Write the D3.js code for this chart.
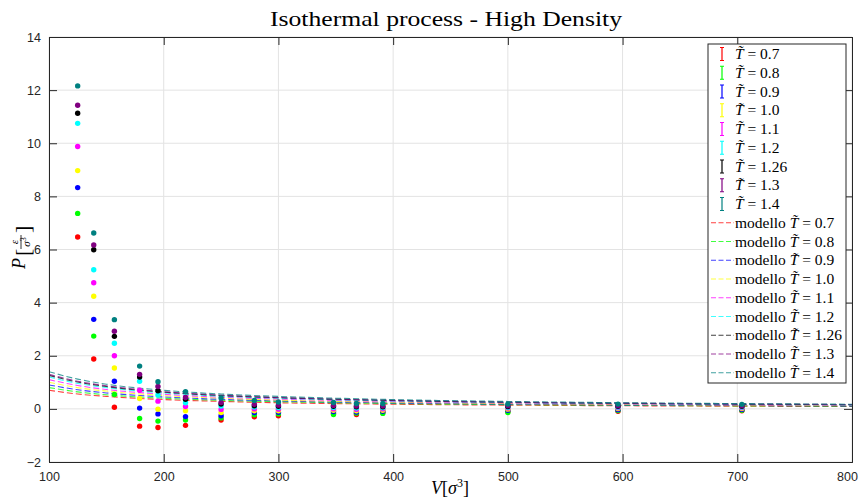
<!DOCTYPE html>
<html><head><meta charset="utf-8">
<script src="https://cdn.jsdelivr.net/npm/d3@7"></script>
<style>body{margin:0;background:#fff}svg{display:block}</style>
</head><body><svg id="c" width="861" height="499"></svg>
<script>
// ---------------- data ----------------
const temps = ["0.7","0.8","0.9","1.0","1.1","1.2","1.26","1.3","1.4"];
const colors = ["#ff0000","#00ff00","#0000ff","#ffff00","#ff00ff","#00ffff","#000000","#800080","#008080"];
const volumes = [125,139,157,179,195,219,250,279,300,348,368,391,500,596,704];
const p07  = [6.47,1.88,0.06,-0.65,-0.70,-0.62,-0.42,-0.30,-0.26,-0.16,-0.21,-0.13,-0.10,-0.09,-0.07];
const p08  = [7.36,2.74,0.54,-0.36,-0.46,-0.42,-0.34,-0.22,-0.19,-0.21,-0.16,-0.17,-0.14,-0.06,-0.05];
const p09  = [8.33,3.37,1.04,0.03,-0.19,-0.29,-0.26,-0.14,-0.13,-0.10,-0.12,-0.09,-0.05,-0.03,-0.02];
const p10  = [8.97,4.24,1.54,0.39,-0.01,-0.07,-0.14,-0.07,-0.07,-0.05,-0.07,-0.05,-0.01,0.01,0.01];
const p11  = [9.88,4.75,2.00,0.70,0.29,0.09,-0.02,0.00,-0.01,0.00,-0.02,0.00,0.03,0.04,0.04];
const p12  = [10.75,5.24,2.47,1.04,0.52,0.23,0.11,0.07,0.05,0.05,0.03,0.04,0.06,0.07,0.07];
const p126 = [11.13,5.99,2.73,1.20,0.68,0.36,0.18,0.12,0.10,0.10,0.08,0.08,0.09,0.10,0.10];
const p13  = [11.43,6.17,2.92,1.30,0.84,0.43,0.24,0.17,0.14,0.13,0.11,0.11,0.12,0.12,0.12];
const p14  = [12.16,6.62,3.36,1.61,1.02,0.65,0.41,0.32,0.26,0.24,0.20,0.20,0.18,0.18,0.17];
const measured = [p07,p08,p09,p10,p11,p12,p126,p13,p14];

const modelV = [100,125,150,200,250,300,400,500,600,800];
const m07  = [0.70,0.56,0.47,0.35,0.28,0.23,0.175,0.14,0.117,0.088];
const m08  = [0.80,0.64,0.53,0.40,0.32,0.27,0.20,0.16,0.133,0.10];
const m09  = [0.90,0.72,0.60,0.45,0.36,0.30,0.225,0.18,0.15,0.113];
const m10  = [1.00,0.80,0.67,0.50,0.40,0.33,0.25,0.20,0.167,0.125];
const m11  = [1.10,0.88,0.73,0.55,0.44,0.37,0.275,0.22,0.183,0.138];
const m12  = [1.20,0.96,0.80,0.60,0.48,0.40,0.30,0.24,0.20,0.15];
const m126 = [1.26,1.01,0.84,0.63,0.50,0.42,0.315,0.25,0.21,0.158];
const m13  = [1.30,1.04,0.87,0.65,0.52,0.43,0.325,0.26,0.217,0.163];
const m14  = [1.40,1.12,0.93,0.70,0.56,0.47,0.35,0.28,0.233,0.175];
const model = [m07,m08,m09,m10,m11,m12,m126,m13,m14];

const xTicks = [100,200,300,400,500,600,700,800];
const yTicks = [-2,0,2,4,6,8,10,12,14];

// ---------------- layout ----------------
const svg = d3.select("#c");
const L = 49, R = 852, T = 37, B = 462;
const x = d3.scaleLinear().domain([100,800]).range([L,R]);
const y = d3.scaleLinear().domain([-2,14]).range([B,T]);
const axisCol = "#262626";
const tickFont = "'Liberation Sans', Arial, sans-serif";
const serif = "'Liberation Serif', 'Times New Roman', serif";

// grid
const grid = svg.append("g");
grid.selectAll(".gx").data(xTicks).join("line")
  .attr("x1", d=>x(d)).attr("x2", d=>x(d)).attr("y1", T).attr("y2", B)
  .attr("stroke", "#e3e3e3").attr("stroke-width", 1);
grid.selectAll(".gy").data(yTicks).join("line")
  .attr("y1", d=>y(d)).attr("y2", d=>y(d)).attr("x1", L).attr("x2", R)
  .attr("stroke", "#e3e3e3").attr("stroke-width", 1);

// clip
svg.append("clipPath").attr("id","clip").append("rect")
  .attr("x", L).attr("y", T).attr("width", R-L).attr("height", B-T);

// model lines
const line = d3.line().x(d=>x(d[0])).y(d=>y(d[1])).curve(d3.curveMonotoneX);
const lg = svg.append("g").attr("clip-path","url(#clip)");
model.forEach((m,i)=>{
  lg.append("path").datum(modelV.map((v,j)=>[v,m[j]]))
    .attr("d", line).attr("fill","none")
    .attr("stroke", colors[i]).attr("stroke-width", 1.1)
    .attr("stroke-opacity", 0.75).attr("stroke-dasharray", "6,3");
});

// points
const pg = svg.append("g").attr("clip-path","url(#clip)");
measured.forEach((arr,i)=>{
  pg.selectAll(null).data(volumes.map((v,j)=>[v,arr[j]])).join("circle")
    .attr("cx", d=>x(d[0])).attr("cy", d=>y(d[1])).attr("r", 2.7)
    .attr("fill", colors[i]);
});

// axes
const ax = d3.axisBottom(x).tickValues(xTicks).tickSize(-8).tickPadding(10).tickFormat(d3.format("d"));
const ay = d3.axisLeft(y).tickValues(yTicks).tickSize(-8).tickPadding(8).tickFormat(d3.format("d"));
const gx = svg.append("g").attr("transform", `translate(0,${B})`).call(ax);
const gy = svg.append("g").attr("transform", `translate(${L},0)`).call(ay);
const gx2 = svg.append("g").attr("transform", `translate(0,${T})`).call(d3.axisTop(x).tickValues(xTicks).tickSize(-8).tickFormat(""));
const gy2 = svg.append("g").attr("transform", `translate(${R},0)`).call(d3.axisRight(y).tickValues(yTicks).tickSize(-8).tickFormat(""));
[gx,gy,gx2,gy2].forEach(g=>{
  g.select(".domain").attr("stroke", axisCol).attr("stroke-width",1);
  g.selectAll(".tick line").attr("stroke", axisCol);
  g.selectAll(".tick text").attr("fill", axisCol).style("font-family", tickFont).style("font-size","12.5px");
});
gx.selectAll(".tick text").filter(d=>d===800).attr("dx", -5);

// title
svg.append("text").attr("x", 446).attr("y", 26).attr("text-anchor","middle")
  .attr("textLength", 352).attr("lengthAdjust","spacingAndGlyphs")
  .style("font-family", serif).style("font-size","22px").attr("fill","#000")
  .text("Isothermal process - High Density");

// x label
const xl = svg.append("text").attr("x", 450).attr("y", 494).attr("text-anchor","middle")
  .style("font-family", serif).style("font-size","18px").attr("fill","#000");
xl.append("tspan").style("font-style","italic").text("V");
xl.append("tspan").text("[");
xl.append("tspan").style("font-style","italic").text("σ");
xl.append("tspan").attr("dy",-7).style("font-size","12px").text("3");
xl.append("tspan").attr("dy",7).text("]");

// y label (rotated)
const yl = svg.append("g").attr("transform","translate(25,250) rotate(-90)");
yl.append("text").attr("x",-19).attr("y",0).style("font-family",serif).style("font-style","italic")
  .style("font-size","18px").text("P");
yl.append("text").attr("x",-6).attr("y",5).style("font-family",serif).style("font-size","22px").text("[");
yl.append("text").attr("x",8).attr("y",-7).attr("text-anchor","middle").style("font-family",serif)
  .style("font-style","italic").style("font-size","11px").text("ε");
yl.append("line").attr("x1",1).attr("x2",15).attr("y1",-4).attr("y2",-4).attr("stroke","#000").attr("stroke-width",0.8);
const den = yl.append("text").attr("x",8).attr("y",5).attr("text-anchor","middle").style("font-family",serif)
  .style("font-size","11px");
den.append("tspan").style("font-style","italic").text("σ");
den.append("tspan").attr("dy",-4).style("font-size","8px").text("3");
yl.append("text").attr("x",17).attr("y",5).style("font-family",serif).style("font-size","22px").text("]");

// legend
const lgX = 708, lgY = 44, lgW = 138, lgH = 339, rowH = 18.75, row0 = 54;
const leg = svg.append("g");
leg.append("rect").attr("x",lgX).attr("y",lgY).attr("width",lgW).attr("height",lgH)
  .attr("fill","#fff").attr("stroke",axisCol).attr("stroke-width",1);
function tlabel(g, xx, yy, prefix, t){
  const tx = g.append("text").attr("x",xx).attr("y",yy).style("font-family",serif)
    .style("font-size","15.5px").attr("fill","#000");
  if (prefix) tx.append("tspan").text(prefix + " ");
  tx.append("tspan").style("font-style","italic").text("T\u0303");
  tx.append("tspan").text(" = " + t);
}
temps.forEach((t,i)=>{
  const cy = row0 + i*rowH;
  const g = leg.append("g");
  g.append("line").attr("x1",722).attr("x2",722).attr("y1",cy-6.5).attr("y2",cy+6.5)
    .attr("stroke",colors[i]).attr("stroke-width",1.2);
  g.append("line").attr("x1",720).attr("x2",724).attr("y1",cy-6.5).attr("y2",cy-6.5).attr("stroke",colors[i]);
  g.append("line").attr("x1",720).attr("x2",724).attr("y1",cy+6.5).attr("y2",cy+6.5).attr("stroke",colors[i]);
  tlabel(g, 735, cy+5, null, t);
});
temps.forEach((t,i)=>{
  const cy = row0 + (i+9)*rowH;
  const g = leg.append("g");
  g.append("line").attr("x1",711).attr("x2",734).attr("y1",cy).attr("y2",cy)
    .attr("stroke",colors[i]).attr("stroke-width",1.1).attr("stroke-opacity",0.75)
    .attr("stroke-dasharray","5,2.5");
  tlabel(g, 735, cy+5, "modello", t);
});
</script></body></html>
